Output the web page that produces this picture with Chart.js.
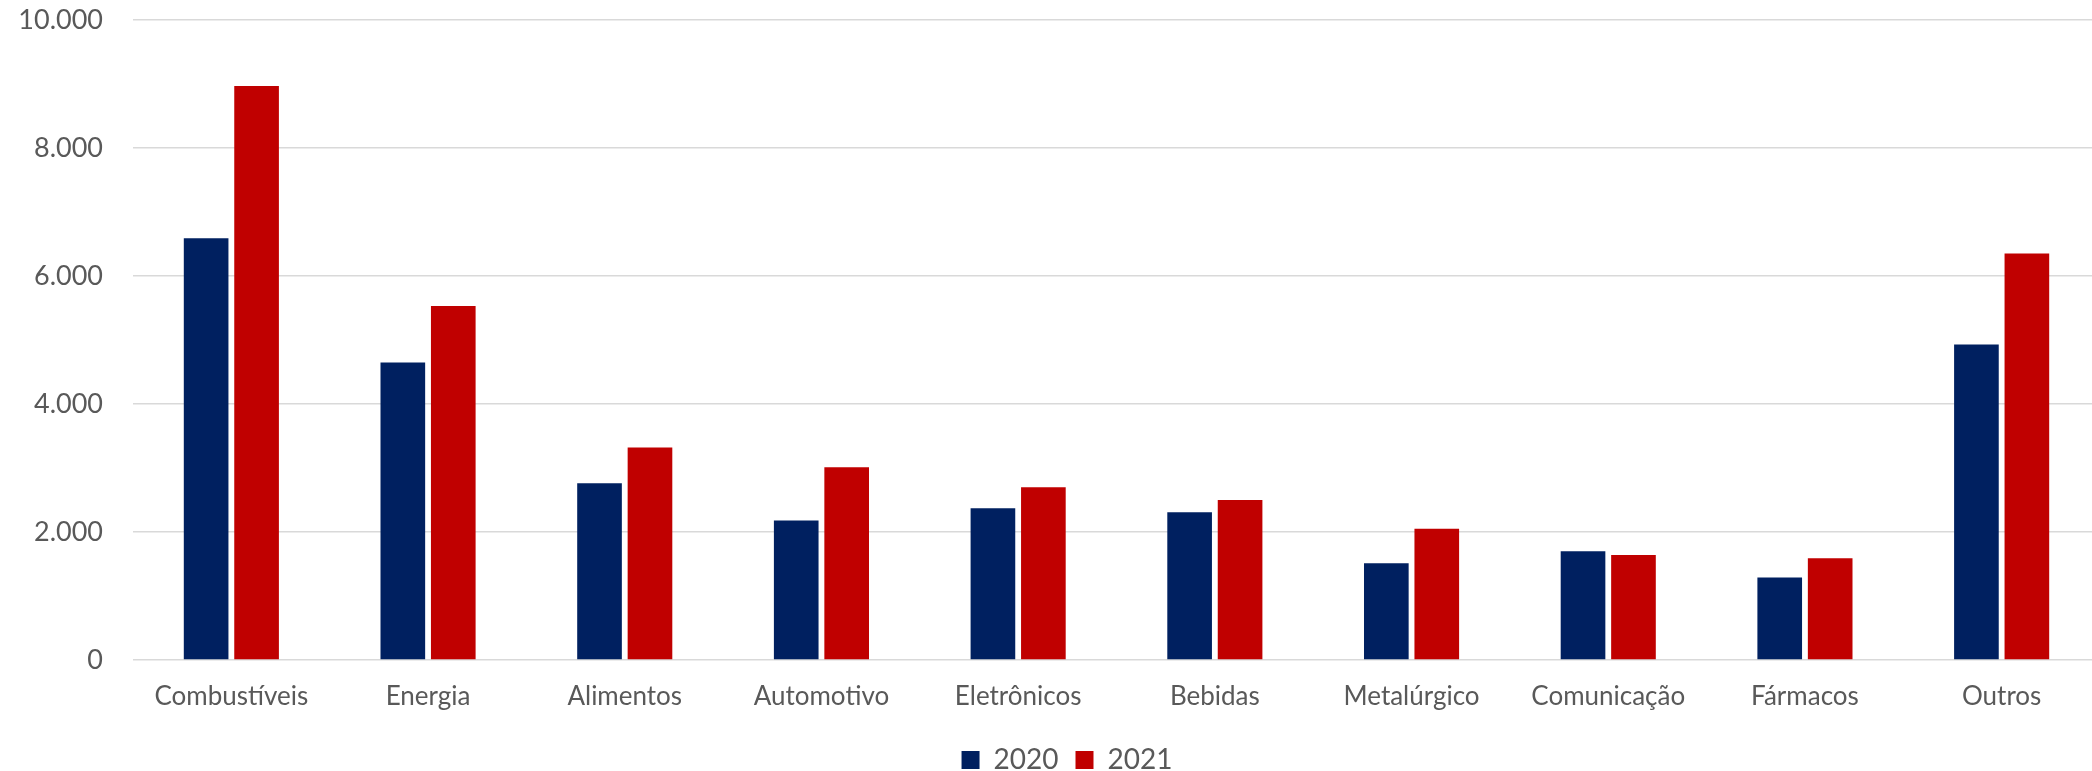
<!DOCTYPE html>
<html lang="pt-BR">

<head>
    <meta charset="UTF-8">
    <script src="https://cdn.jsdelivr.net/npm/chart.js"></script>
    <title>Setores 2020 x 2021</title>
    <style>
        body { margin: 0; background: #fff; }
        .grafico { position: relative; width: 2092px; height: 771px; }
    </style>
</head>

<body>
    <div class="grafico">
        <canvas id="myChart"></canvas>
    </div>

<script>
    // dados
    const setores = ['Combustíveis', 'Energia', 'Alimentos', 'Automotivo', 'Eletrônicos', 'Bebidas', 'Metalúrgico', 'Comunicação', 'Fármacos', 'Outros'];
    const valores2020 = [6590, 4650, 2760, 2180, 2370, 2310, 1510, 1700, 1290, 4930];
    const valores2021 = [8970, 5530, 3320, 3010, 2700, 2500, 2050, 1640, 1590, 6350];
    const anos = ['2020', '2021'];
    const yTicks = [0, 2000, 4000, 6000, 8000, 10000];

    function formatarMilhar(v) {
        return String(v).replace(/\B(?=(\d{3})+(?!\d))/g, '.');
    }

    // no original a área do gráfico passa um pouco da borda direita,
    // e a legenda fica um pouco à direita do centro
    const ajusteLayout = {
        id: 'ajusteLayout',
        afterLayout(chart) {
            const x = chart.scales.x;
            x.right += 8;
            x.width += 8;
            chart.chartArea.right += 8;
            chart.chartArea.width += 8;
            x.configure();

            chart.legend.left += 21;
            chart.legend.right += 21;
        }
    };

    const ctx = document.getElementById('myChart');

    const myChart = new Chart(ctx, {
        type: 'bar',
        data: {
            labels: setores,
            datasets: [{
                label: anos[0],
                data: valores2020,
                backgroundColor: '#002060',
                categoryPercentage: 0.513,
                barPercentage: 0.885
            }, {
                label: anos[1],
                data: valores2021,
                backgroundColor: '#c00000',
                categoryPercentage: 0.513,
                barPercentage: 0.885
            }]
        },
        options: {
            responsive: true,
            maintainAspectRatio: false,
            animation: false,
            layout: {
                padding: { top: 0, right: 0, left: 0, bottom: -13 }
            },
            scales: {
                x: {
                    grid: { display: false, drawTicks: false },
                    border: { display: false },
                    ticks: {
                        color: '#595959',
                        font: { family: 'Lato', size: 26 },
                        padding: 21,
                        maxRotation: 0,
                        autoSkip: false
                    },
                    afterFit: function (scale) { scale.height = 69; }
                },
                y: {
                    min: yTicks[0],
                    max: yTicks[yTicks.length - 1],
                    afterBuildTicks: function (scale) {
                        scale.ticks = yTicks.map(v => ({ value: v }));
                    },
                    grid: { color: '#d9d9d9', lineWidth: 1.5, drawTicks: false },
                    border: { display: false },
                    ticks: {
                        color: '#595959',
                        font: { family: 'Lato', size: 27 },
                        padding: 30,
                        callback: function (v) { return formatarMilhar(v); }
                    },
                    afterFit: function (scale) {
                        scale.width = 133;
                        scale.paddingTop = 20;
                        scale.paddingBottom = 0;
                    }
                }
            },
            plugins: {
                legend: {
                    position: 'bottom',
                    labels: {
                        color: '#595959',
                        font: { family: 'Lato', size: 28 },
                        boxWidth: 18,
                        boxHeight: 18,
                        padding: 17
                    }
                },
                tooltip: { enabled: false }
            }
        },
        plugins: [ajusteLayout]
    });
</script>
</body>

</html>
